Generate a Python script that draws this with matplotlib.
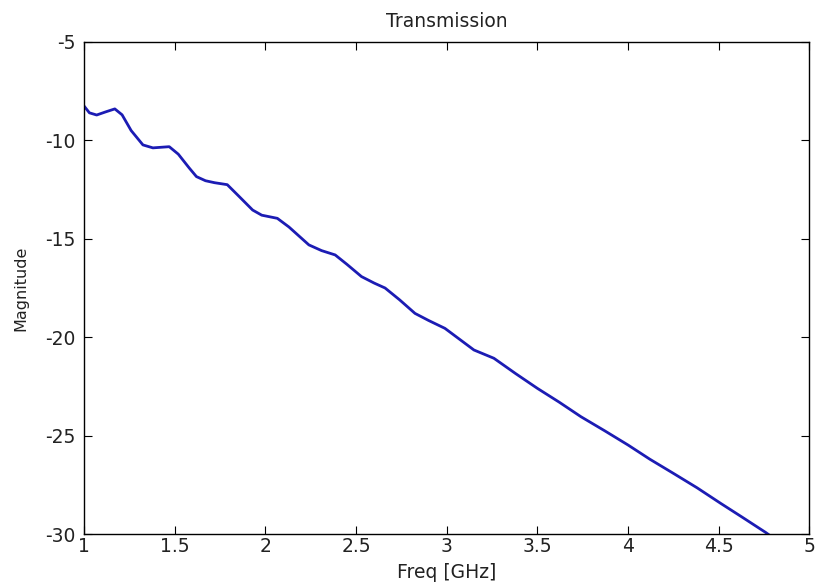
import matplotlib
matplotlib.use("Agg")
import matplotlib.pyplot as plt
import numpy as np

plt.rcParams['font.family'] = ['DejaVu Sans']

# frequency [GHz] and magnitude
freq = np.array([1.00, 1.03, 1.07, 1.12, 1.17, 1.21, 1.26, 1.325, 1.38, 1.47, 1.52,
                 1.58, 1.62, 1.67, 1.72, 1.79, 1.85, 1.93, 1.98, 2.066, 2.13, 2.24,
                 2.31, 2.385, 2.45, 2.53, 2.60, 2.66, 2.74, 2.825, 2.90, 2.99, 3.07,
                 3.15, 3.26, 3.38, 3.50, 3.62, 3.74, 3.87, 4.00, 4.12, 4.25, 4.38,
                 4.51, 4.63, 4.76, 4.80])
mag = np.array([-8.25, -8.60, -8.71, -8.55, -8.40, -8.70, -9.50, -10.23, -10.38, -10.32, -10.70,
                -11.40, -11.84, -12.05, -12.15, -12.25, -12.80, -13.54, -13.80, -13.96, -14.40, -15.31,
                -15.60, -15.82, -16.30, -16.92, -17.25, -17.50, -18.10, -18.79, -19.15, -19.55, -20.10,
                -20.65, -21.07, -21.85, -22.60, -23.30, -24.04, -24.75, -25.48, -26.20, -26.92, -27.65,
                -28.44, -29.15, -29.93, -30.20])

fig = plt.figure(figsize=(8.17, 5.88), dpi=100)
ax = fig.add_axes([0.1028, 0.0918, 0.8880, 0.8368])
ax.plot(freq, mag, color='#1c1cb4', linewidth=2.0)

ax.set_xlim(1, 5)
ax.set_ylim(-30, -5)
ax.set_xticks([1, 1.5, 2, 2.5, 3, 3.5, 4, 4.5, 5])
ax.set_xticklabels(['1', '1.5', '2', '2.5', '3', '3.5', '4', '4.5', '5'])
ax.set_yticks([-30, -25, -20, -15, -10, -5])
ax.set_yticklabels(['-30', '-25', '-20', '-15', '-10', '-5'])
ax.tick_params(direction='in', length=6, top=True, right=True, labelsize=13.5,
               labelcolor='#222222')
ax.tick_params(axis='x', pad=2)
ax.tick_params(axis='y', pad=6)
for s in ax.spines.values():
    s.set_linewidth(1.0)

ax.set_title('Transmission', fontsize=13.5, pad=11, color='#222222')
ax.set_xlabel('Freq [GHz]', fontsize=13.5, labelpad=5, color='#222222')
ax.set_ylabel('Magnitude', fontsize=11.5, labelpad=12, color='#222222')

fig.savefig('out.png', dpi=100)
